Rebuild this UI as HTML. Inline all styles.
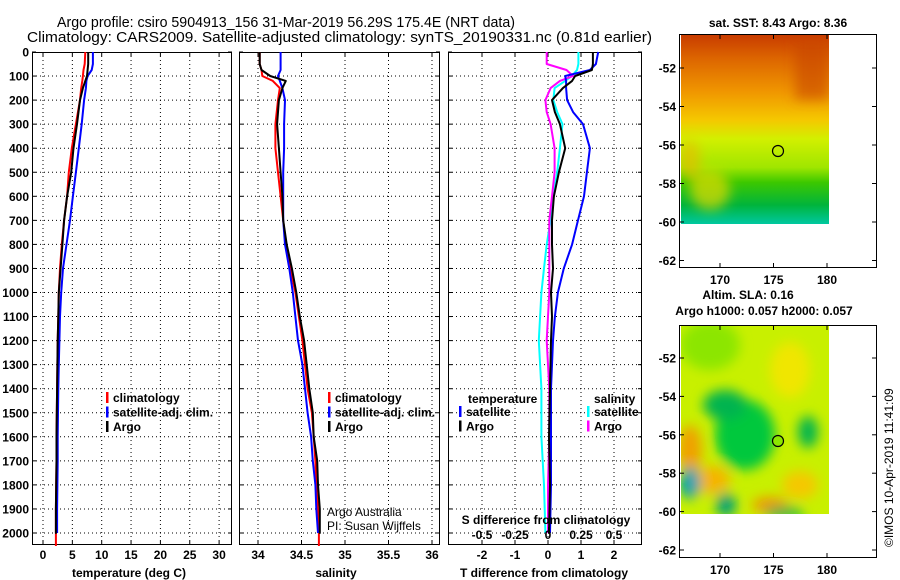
<!DOCTYPE html>
<html><head><meta charset="utf-8"><style>
html,body{margin:0;padding:0;background:#fff;}
svg{display:block;font-family:"Liberation Sans",sans-serif;}
.tk{font-size:12px;font-weight:bold;fill:#000;}
.lg{font-size:12px;font-weight:bold;fill:#000;}
</style></head><body>
<svg id="fig" width="900" height="580" viewBox="0 0 900 580">
<defs>
<linearGradient id="sstg" x1="0" y1="0" x2="0" y2="1">
<stop offset="0" stop-color="#c83c00"/><stop offset="0.12" stop-color="#dc6400"/><stop offset="0.3" stop-color="#f09600"/><stop offset="0.45" stop-color="#f5c800"/><stop offset="0.55" stop-color="#d2f000"/><stop offset="0.7" stop-color="#a0e600"/><stop offset="0.78" stop-color="#3cc800"/><stop offset="0.9" stop-color="#00b43c"/><stop offset="1" stop-color="#00c8a0"/>
</linearGradient>
<filter id="blur"><feGaussianBlur stdDeviation="6"/></filter>
<clipPath id="m2clip"><rect x="681" y="325" width="148" height="189"/></clipPath>
<clipPath id="m1clip"><rect x="681" y="35" width="148" height="189"/></clipPath>
</defs>
<text x="57" y="27" font-size="14.5" textLength="458" lengthAdjust="spacingAndGlyphs">Argo profile: csiro 5904913_156 31-Mar-2019 56.29S 175.4E (NRT data)</text>
<text x="27" y="42" font-size="14.5" textLength="625" lengthAdjust="spacingAndGlyphs">Climatology: CARS2009. Satellite-adjusted climatology: synTS_20190331.nc (0.81d earlier)</text>
<g id="p1"></g>
<g id="p2"></g>
<g id="p3"></g>
<g id="maps">
 <text class="tk" x="778" y="27" text-anchor="middle">sat. SST: 8.43 Argo: 8.36</text>
 <g clip-path="url(#m1clip)">
  <rect x="681" y="35" width="148" height="189" fill="url(#sstg)"/>
  <g filter="url(#blur)">
   <rect x="795" y="40" width="34" height="60" fill="#c84600" opacity="0.6"/>
   <ellipse cx="710" cy="190" rx="20" ry="20" fill="#e6dc00" opacity="0.7"/>
   <ellipse cx="690" cy="160" rx="10" ry="20" fill="#f0b400" opacity="0.6"/>
  </g>
 </g>
 <circle cx="778" cy="151" r="5.5" fill="none" stroke="#000" stroke-width="1.2"/>
 <rect x="679.5" y="34.5" width="197" height="233" fill="none" stroke="#000"/>
 <text class="tk" x="748" y="299" text-anchor="middle">Altim. SLA: 0.16</text>
 <text class="tk" x="764" y="315" text-anchor="middle">Argo h1000: 0.057 h2000: 0.057</text>
 <g clip-path="url(#m2clip)">
  <rect x="681" y="325" width="148" height="189" fill="#c8f000"/>
  <g filter="url(#blur)">
   <ellipse cx="710" cy="345" rx="30" ry="25" fill="#8ce600"/>
   <ellipse cx="790" cy="370" rx="20" ry="28" fill="#f0e600"/>
   <ellipse cx="690" cy="450" rx="12" ry="25" fill="#f0a000"/>
   <ellipse cx="712" cy="480" rx="18" ry="14" fill="#f5b400"/>
   <ellipse cx="770" cy="505" rx="18" ry="8" fill="#f09600"/>
   <ellipse cx="800" cy="485" rx="18" ry="14" fill="#f5c800"/>
   <ellipse cx="745" cy="435" rx="30" ry="35" fill="#00c83c"/>
   <ellipse cx="725" cy="405" rx="22" ry="15" fill="#00b450"/>
   <ellipse cx="808" cy="432" rx="10" ry="16" fill="#00b450"/>
   <ellipse cx="690" cy="483" rx="10" ry="16" fill="#00a0b4"/>
   <ellipse cx="726" cy="505" rx="10" ry="12" fill="#00a078"/>
   <ellipse cx="784" cy="513" rx="20" ry="6" fill="#00b450"/>
  </g>
 </g>
 <circle cx="778" cy="441" r="5.5" fill="#8ce600" stroke="#000" stroke-width="1.2"/>
 <rect x="679.5" y="325.5" width="197" height="232" fill="none" stroke="#000"/>
 <text transform="translate(893,547) rotate(-90)" font-size="12">©IMOS 10-Apr-2019 11:41:09</text>
</g>
</svg>
<script>
// ---------- data ----------
const tsDepths = [0,50,75,100,120,150,200,300,400,500,600,700,800,900,1000,1100,1200,1300,1400,1500,1600,1700,1800,1900,2000];
const tempClim = [7.2,7.1,6.9,6.8,6.7,6.5,6.3,5.6,4.9,4.4,4.1,3.6,3.2,2.9,2.7,2.6,2.5,2.45,2.4,2.35,2.3,2.3,2.25,2.2,2.2];
const tempArgo = [7.7,7.7,7.6,7.5,7.2,6.8,6.3,5.8,5.2,4.8,4.1,3.6,3.3,3.0,2.7,2.6,2.5,2.45,2.4,2.35,2.3,2.3,2.25,2.2,2.2];
const tempSat  = [8.5,8.5,8.3,7.6,7.4,7.3,7.0,6.6,6.1,5.6,5.1,4.6,4.0,3.4,3.1,2.9,2.8,2.7,2.6,2.55,2.5,2.5,2.45,2.4,2.4];
const salClim  = [34.02,34.02,34.04,34.05,34.17,34.25,34.23,34.20,34.20,34.23,34.26,34.29,34.32,34.37,34.43,34.47,34.51,34.54,34.57,34.62,34.64,34.66,34.67,34.69,34.70];
const salArgo  = [34.02,34.02,34.04,34.14,34.32,34.28,34.24,34.22,34.24,34.26,34.28,34.29,34.33,34.39,34.44,34.48,34.53,34.56,34.59,34.63,34.64,34.68,34.69,34.71,34.71];
const salSat   = [34.26,34.26,34.26,34.23,34.25,34.28,34.31,34.30,34.30,34.29,34.29,34.29,34.31,34.36,34.40,34.43,34.46,34.51,34.54,34.57,34.61,34.63,34.66,34.67,34.69];
const diffDepths = [0,50,75,100,120,150,200,250,300,400,500,600,700,800,900,1000,1100,1200,1400,1600,1800,2000];
const dTempSat  = [1.52,1.45,1.27,0.52,0.55,0.55,0.58,0.76,1.06,1.27,1.18,1.09,0.91,0.73,0.48,0.30,0.21,0.15,0.09,0.09,0.09,0.06];
const dTempArgo = [1.36,1.36,1.33,0.82,0.73,0.45,0.12,0.21,0.36,0.52,0.33,0.18,0.12,0.12,0.15,0.09,0.12,0.09,0.06,0.03,0.06,0.03];
const dSalSat   = [0.23,0.23,0.22,0.18,0.13,0.05,0.04,0.07,0.11,0.09,0.07,0.04,0.02,-0.01,-0.03,-0.05,-0.06,-0.07,-0.05,-0.05,-0.03,-0.02];
const dSalArgo  = [-0.01,-0.01,0.14,0.19,0.09,0.02,-0.02,-0.01,0.02,0.05,0.05,0.03,0.01,0.01,0.01,0.01,0.00,-0.01,0.01,0.01,0.00,0.00];
const depthTicks = [0,100,200,300,400,500,600,700,800,900,1000,1100,1200,1300,1400,1500,1600,1700,1800,1900,2000];
const tempTicks = [0,5,10,15,20,25,30];
const salTicks = [34,34.5,35,35.5,36];
const salTickLabels = ['34','34.5','35','35.5','36'];
const dTTicks = [-2,-1,0,1,2];
const dSTicks = [-0.5,-0.25,0,0.25,0.5];
const dSTickLabels = ['-0.5','-0.25','0','0.25','0.5'];
const mapLon = [170,175,180];
const mapLat = [-52,-54,-56,-58,-60,-62];

// ---------- helpers ----------
const NS='http://www.w3.org/2000/svg';
function mk(parent,tag,attrs,text){const e=document.createElementNS(NS,tag);for(const k in attrs)e.setAttribute(k,attrs[k]);if(text!==undefined)e.textContent=text;parent.appendChild(e);return e;}
const yD = d => 52 + 0.2405*d;
const TOP=52, BOT=545;
const xT = t => 43 + 5.87*t;
const xS = s => 258 + 87*(s-34);
const xDT = t => 548 + 33*t;
const xDS = s => 548 + 132*s;
const lonX = l => 720 + 10.7*(l-170);
const lat1Y = l => 68 + 19.25*(-52-l);
const lat2Y = l => 358 + 19.2*(-52-l);

function frame(g,x0,x1,xticks,xfn,vgrid,labels,showDepth,name){
  vgrid.forEach(v=>{const x=xfn(v);
    const ln=mk(g,'line',{x1:x,x2:x,y1:TOP,y2:BOT,stroke:'#000','stroke-dasharray':'1,3','stroke-width':1});
    
    
  });
  depthTicks.forEach(d=>{ if(d===0) return; const y=yD(d);
    const ln=mk(g,'line',{x1:x0,x2:x1,y1:y,y2:y,stroke:'#000','stroke-dasharray':'1,3','stroke-width':1});
    
    
  });
  const r=mk(g,'rect',{x:x0+0.5,y:TOP+0.5,width:x1-x0-1,height:BOT-TOP-1,fill:'none',stroke:'#000','stroke-width':1});
  
  
  xticks.forEach((v,i)=>{const x=xfn(v);
    mk(g,'line',{x1:x,x2:x,y1:BOT,y2:BOT-4,stroke:'#000'});
    mk(g,'line',{x1:x,x2:x,y1:TOP,y2:TOP+4,stroke:'#000'});
    const t=mk(g,'text',{x:x,y:559,class:'tk','text-anchor':'middle'},labels[i]);
    
    
  });
  depthTicks.forEach(d=>{const y=yD(d);
    mk(g,'line',{x1:x0,x2:x0+4,y1:y,y2:y,stroke:'#000'});
    mk(g,'line',{x1:x1-4,x2:x1,y1:y,y2:y,stroke:'#000'});
    if(showDepth){const t=mk(g,'text',{x:29,y:y+4.5,class:'tk','text-anchor':'end'},String(d));
      
      }
  });
}
function line(g,xs,ds,xfn,color,w,name,endDepth){
  const pts=[];
  for(let i=0;i<xs.length;i++){pts.push(xfn(xs[i]).toFixed(1)+','+yD(ds[i]).toFixed(1));}
  if(endDepth!==undefined) pts.push(xfn(xs[xs.length-1]).toFixed(1)+','+yD(endDepth).toFixed(1));
  const p=mk(g,'polyline',{points:pts.join(' '),fill:'none',stroke:color,'stroke-width':w,'stroke-linejoin':'round'});
  
  
}
function legend(g,x,y,items){
  items.forEach((it,i)=>{const yy=y+i*14.5;
    mk(g,'rect',{x:x,y:yy-10,width:2.5,height:11,fill:it[0]});
    const t=mk(g,'text',{x:x+7,y:yy,class:'lg'},it[1]);
    
    
  });
}

// ---------- panel 1 ----------
const p1=document.getElementById('p1');
frame(p1,32,232,tempTicks,xT,tempTicks,tempTicks.map(String),true,'temperature-panel');
line(p1,tempClim,tsDepths,xT,'#f00',2,'temperature-climatology-line',2054);
line(p1,tempSat,tsDepths,xT,'#00f',2,'temperature-satellite-line');
line(p1,tempArgo,tsDepths,xT,'#000',2,'temperature-argo-line',1975);
legend(p1,106,402,[['#f00','climatology'],['#00f','satellite-adj. clim.'],['#000','Argo']]);
mk(p1,'text',{x:129,y:577,class:'tk','text-anchor':'middle'},'temperature (deg C)');

// ---------- panel 2 ----------
const p2=document.getElementById('p2');
frame(p2,239,440,salTicks,xS,salTicks,salTickLabels,false,'salinity-panel');
line(p2,salClim,tsDepths,xS,'#f00',2,'salinity-climatology-line',2054);
line(p2,salSat,tsDepths,xS,'#00f',2,'salinity-satellite-line');
line(p2,salArgo,tsDepths,xS,'#000',2,'salinity-argo-line',1975);
legend(p2,328,402,[['#f00','climatology'],['#00f','satellite-adj. clim.'],['#000','Argo']]);
mk(p2,'text',{x:327,y:516,'font-size':12},'Argo Australia');
mk(p2,'text',{x:327,y:530,'font-size':12},'PI: Susan Wijffels');
mk(p2,'text',{x:336,y:577,class:'tk','text-anchor':'middle'},'salinity');

// ---------- panel 3 ----------
const p3=document.getElementById('p3');
frame(p3,448,642,dTTicks,xDT,dTTicks,dTTicks.map(String),false,'difference-panel');
line(p3,dSalSat,diffDepths,xDS,'#0ff',2,'salinity-satellite-diff-line');
line(p3,dSalArgo,diffDepths,xDS,'#f0f',2,'salinity-argo-diff-line');
line(p3,dTempSat,diffDepths,xDT,'#00f',2,'temperature-satellite-diff-line');
line(p3,dTempArgo,diffDepths,xDT,'#000',2,'temperature-argo-diff-line',1975);
mk(p3,'text',{x:468,y:403,class:'lg'},'temperature');
mk(p3,'text',{x:594,y:403,class:'lg'},'salinity');
legend(p3,459,416,[['#00f','satellite'],['#000','Argo']]);
legend(p3,587,416,[['#0ff','satellite'],['#f0f','Argo']]);
mk(p3,'text',{x:546,y:524,class:'tk','text-anchor':'middle'},'S difference from climatology');
dSTicks.forEach((v,i)=>{const t=mk(p3,'text',{x:xDS(v),y:539,class:'tk','text-anchor':'middle'},dSTickLabels[i]);
  
  });
mk(p3,'text',{x:544,y:577,class:'tk','text-anchor':'middle'},'T difference from climatology');

// ---------- map axes ----------
const mg=document.getElementById('maps');
function mapAxes(yfn,top,bot,lblY){
  mapLon.forEach(l=>{const x=lonX(l);
    mk(mg,'line',{x1:x,x2:x,y1:top,y2:top+4,stroke:'#000'});
    mk(mg,'line',{x1:x,x2:x,y1:bot,y2:bot-4,stroke:'#000'});
    const t=mk(mg,'text',{x:x,y:lblY,class:'tk','text-anchor':'middle'},String(l));
    
    });
  mapLat.forEach(l=>{const y=yfn(l);
    mk(mg,'line',{x1:680,x2:684,y1:y,y2:y,stroke:'#000'});
    mk(mg,'line',{x1:872,x2:876,y1:y,y2:y,stroke:'#000'});
    const t=mk(mg,'text',{x:676,y:y+4.5,class:'tk','text-anchor':'end'},String(l));
    
    });
}
mapAxes(lat1Y,35,267,284);
mapAxes(lat2Y,326,557,574);
</script>
</body></html>
